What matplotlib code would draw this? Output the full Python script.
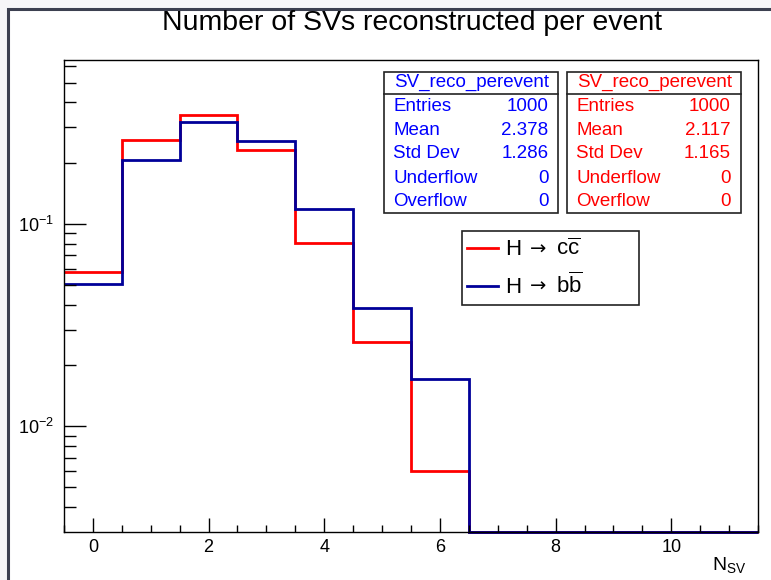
import numpy as np
import matplotlib
matplotlib.use("Agg")
import matplotlib.pyplot as plt
from matplotlib.patches import Rectangle
from matplotlib.lines import Line2D
from matplotlib.ticker import LogLocator, NullFormatter, MultipleLocator, FixedLocator

plt.rcParams['font.family'] = ['Liberation Sans', 'DejaVu Sans']
plt.rcParams['mathtext.fontset'] = 'custom'
plt.rcParams['mathtext.rm'] = 'Liberation Sans'
plt.rcParams['mathtext.it'] = 'Liberation Sans:italic'
plt.rcParams['mathtext.default'] = 'regular'

# normalised number of SVs per event, bins 0..11
n_sv_edges = np.arange(-0.5, 12.0, 1.0)
frac_hcc = [0.0578, 0.261, 0.344, 0.233, 0.0805, 0.0261, 0.0060, 0, 0, 0, 0, 0]
frac_hbb = [0.0505, 0.206, 0.318, 0.256, 0.119, 0.0385, 0.0171, 0, 0, 0, 0, 0]

# stat box contents
stat_names = ["Entries", "Mean", "Std Dev", "Underflow", "Overflow"]
stats_hbb = ["1000", "2.378", "1.286", "0", "0"]
stats_hcc = ["1000", "2.117", "1.165", "0", "0"]
hist_name = "SV_reco_perevent"

y_lo, y_hi = 0.003009, 0.6459

W, H = 771, 580
fig = plt.figure(figsize=(W / 100, H / 100), dpi=100)
fig.patch.set_facecolor('#f6f6f8')


def fx(px):
    return px / W


def fy(py):
    return 1 - py / H


# canvas frame
fig.patches.append(Rectangle((fx(8), fy(H + 20)), fx(W + 20), fy(9) - fy(H + 20),
                             transform=fig.transFigure, facecolor='white',
                             edgecolor='#3c4050', linewidth=2.2, zorder=-5))

ax = fig.add_axes([fx(64), fy(532), fx(758) - fx(64), fy(60) - fy(532)])
ax.set_yscale('log')
ax.set_xlim(-0.5, 11.5)
ax.set_ylim(y_lo, y_hi)

hcc = np.where(np.array(frac_hcc) > 0, frac_hcc, y_lo)
hbb = np.where(np.array(frac_hbb) > 0, frac_hbb, y_lo)
ax.stairs(hcc, n_sv_edges, baseline=None, color='#ff0000', linewidth=2.0, clip_on=False)
ax.stairs(hbb, n_sv_edges, baseline=None, color='#000099', linewidth=2.0, clip_on=False)

ax.xaxis.set_major_locator(MultipleLocator(2))
ax.xaxis.set_minor_locator(MultipleLocator(0.5))
ax.yaxis.set_major_locator(FixedLocator([0.01, 0.1]))
ax.yaxis.set_minor_locator(LogLocator(base=10, subs=np.arange(2, 10)))
ax.yaxis.set_minor_formatter(NullFormatter())
ax.set_yticklabels([r'$10^{-2}$', r'$10^{-1}$'])
ax.tick_params(axis='x', which='major', direction='in', length=10, width=1, labelsize=13, pad=5, top=False)
ax.tick_params(axis='x', which='minor', direction='in', length=5, width=1, top=False)
ax.tick_params(axis='y', which='major', direction='in', length=16, width=1, labelsize=13, pad=7, right=False)
ax.tick_params(axis='y', which='minor', direction='in', length=8.5, width=1, right=False)
for s in ax.spines.values():
    s.set_linewidth(1.0)

fig.text(fx(412), fy(29.5), "Number of SVs reconstructed per event", ha='center', va='baseline', fontsize=20.5)
fig.text(fx(746), fy(570), r'N$_{SV}$', ha='right', va='baseline', fontsize=14)


def stat_box(x0, x1, color, values):
    y0, y1 = 71.7, 213.3
    fig.patches.append(Rectangle((fx(x0), fy(y1)), fx(x1) - fx(x0), fy(y0) - fy(y1),
                                 transform=fig.transFigure, facecolor='white',
                                 edgecolor='#222222', linewidth=1.2, zorder=3))
    fig.lines.append(Line2D([fx(x0), fx(x1)], [fy(94.3), fy(94.3)], transform=fig.transFigure,
                            color='#222222', linewidth=1.2, zorder=4))
    fig.text(fx((x0 + x1) / 2), fy(82.7), hist_name, ha='center', va='center',
             fontsize=13.5, color=color, zorder=5)
    rows = [106.7, 130.3, 154.0, 178.0, 201.7]
    for name, val, yr in zip(stat_names, values, rows):
        fig.text(fx(x0 + 9), fy(yr), name, ha='left', va='center', fontsize=13.5, color=color, zorder=5)
        fig.text(fx(x1 - 10), fy(yr), val, ha='right', va='center', fontsize=13.5, color=color, zorder=5)


stat_box(384.3, 558.3, '#0000ff', stats_hbb)
stat_box(567.3, 741.0, '#ff0000', stats_hcc)

# legend
fig.patches.append(Rectangle((fx(461.7), fy(305)), fx(639) - fx(461.7), fy(231) - fy(305),
                             transform=fig.transFigure, facecolor='white',
                             edgecolor='#222222', linewidth=1.2, zorder=3))
for yl, col, quark in [(248.3, '#ff0000', 'c'), (285.7, '#000099', 'b')]:
    fig.lines.append(Line2D([fx(467.3), fx(498.3)], [fy(yl), fy(yl)], transform=fig.transFigure,
                            color=col, linewidth=2.0, zorder=4))
    fig.text(fx(505), fy(yl + 7), 'H', ha='left', va='baseline', fontsize=16, zorder=5)
    fig.text(fx(530), fy(yl + 6), '\u2192', ha='left', va='baseline', fontsize=14,
             family=['DejaVu Sans'], zorder=5)
    fig.text(fx(556), fy(yl + 7), quark + '$\\overline{' + quark + '}$', ha='left', va='baseline',
             fontsize=16, zorder=5)

fig.savefig('out.png', dpi=100, facecolor=fig.get_facecolor())
